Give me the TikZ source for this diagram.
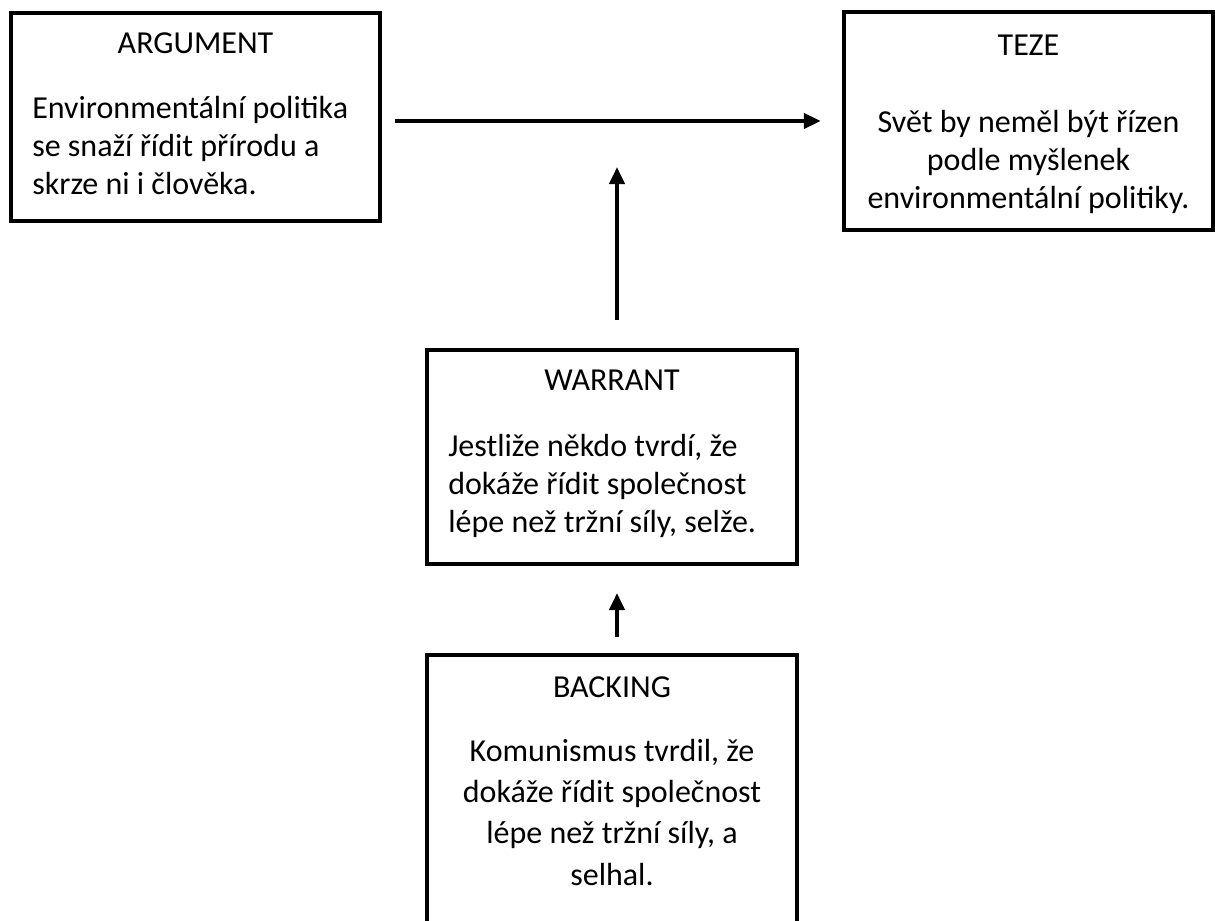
\documentclass[tikz,border=0pt]{standalone}
\usepackage{fontspec}
\setmainfont{Carlito}
\usetikzlibrary{arrows.meta}

\tikzset{
  box/.style={draw, line width=3pt, minimum width=277pt},
  head/.style={anchor=base, inner sep=0pt, font=\fontsize{24}{28.5}\selectfont},
  body/.style={inner sep=0pt, font=\fontsize{24}{28.5}\selectfont},
  arrow/.style={line width=3pt, -{Triangle[length=12.75pt,width=11.25pt]}}
}

\begin{document}
\begin{tikzpicture}[x=0.75pt,y=-0.75pt]
  \useasboundingbox (0,0) rectangle (1215,921);
  \clip (0,0) rectangle (1215,921);

  % boxes
  \node[box, minimum height=156pt] (arg) at (195.5,117) {};
  \node[box, minimum height=163.5pt] (teze) at (1028.5,121) {};
  \node[box, minimum height=160.5pt] (war) at (612,457) {};
  \node[box, minimum height=228.75pt] (back) at (612,807.5) {};

  % texts (base = last line)
  \node[head] (argT) at (195.5,53) {ARGUMENT};
  \node[body, anchor=base west, align=left] (argB) at (32,194)
    {Environmentální politika\\se snaží řídit přírodu a\\skrze ni i člověka.};
  \node[head] (tezeT) at (1028.5,55) {TEZE};
  \node[body, anchor=base, align=center] (tezeB) at (1028.5,208)
    {Svět by neměl být řízen\\podle myšlenek\\environmentální politiky.};
  \node[head] (warT) at (612,390) {WARRANT};
  \node[body, anchor=base west, align=left] (warB) at (448,532)
    {Jestliže někdo tvrdí, že\\dokáže řídit společnost\\lépe než tržní síly, selže.};
  \node[head] (backT) at (612,697) {BACKING};
  \node[body, anchor=base, align=center, font=\fontsize{24}{31}\selectfont] (backB) at (612,885)
    {Komunismus tvrdil, že\\dokáže řídit společnost\\lépe než tržní síly, a\\selhal.};

  % arrows
  \coordinate (join) at (617,167);
  \draw[arrow] ([xshift=9.75pt]arg.east |- teze.west) -- ([xshift=-15.75pt]teze.west);
  \draw[arrow] ([shift={(3.75pt,21pt)}]war.north) -- (join);
  \draw[arrow] ([shift={(3.75pt,12pt)}]back.north) -- ([shift={(3.75pt,-20.25pt)}]war.south);
\end{tikzpicture}
\end{document}
